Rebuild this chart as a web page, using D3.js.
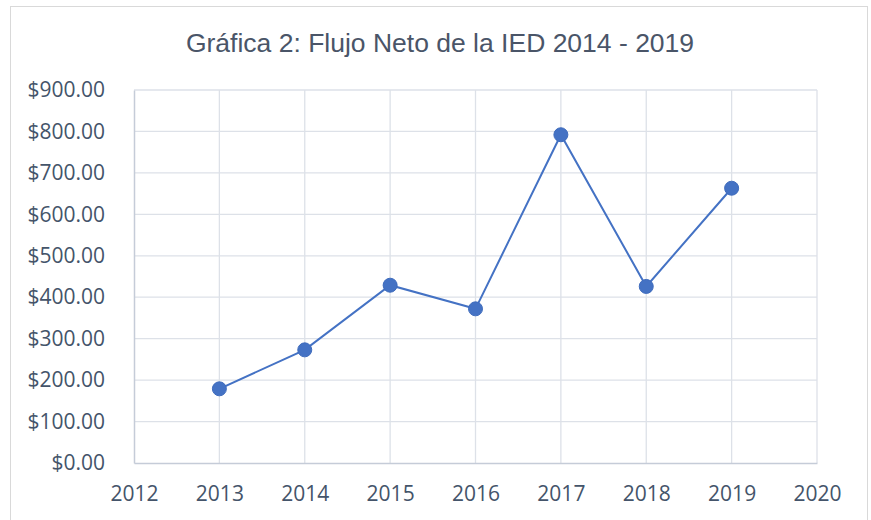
<!DOCTYPE html>
<html><head><meta charset="utf-8">
<script src="https://cdn.jsdelivr.net/npm/d3@7"></script>
<style>body{margin:0;background:#fff}svg{display:block}</style>
</head><body>
<script>
const title = "Gráfica 2: Flujo Neto de la IED 2014 - 2019";
const years = [2013, 2014, 2015, 2016, 2017, 2018, 2019];
const values = [179, 273, 429, 372, 792, 426, 663];
const xTicks = [2012, 2013, 2014, 2015, 2016, 2017, 2018, 2019, 2020];
const yTicks = [0, 100, 200, 300, 400, 500, 600, 700, 800, 900];

const W = 871, H = 520;
const m = {left: 134, right: 871 - 817, top: 90, bottom: 520 - 463};
const svg = d3.select("body").append("svg").attr("width", W).attr("height", H);

svg.append("rect").attr("x", 10.5).attr("y", 6.5).attr("width", 857).attr("height", 530)
  .attr("fill", "#fff").attr("stroke", "#D9D9D9").attr("stroke-width", 1);

const x = d3.scaleLinear().domain([2012, 2020]).range([m.left, W - m.right]);
const y = d3.scaleLinear().domain([0, 900]).range([H - m.bottom, m.top]);

svg.append("text").attr("x", 440).attr("y", 52).attr("text-anchor", "middle")
  .attr("font-family", "Liberation Sans, Arial, sans-serif").attr("font-size", 26.5)
  .attr("fill", "#4A5568").text(title);

const fmt = v => "$" + d3.format(",.2f")(v);

// grid
svg.append("g").selectAll("line").data(yTicks.filter(d => d > 0)).join("line")
  .attr("x1", x(2012)).attr("x2", x(2020)).attr("y1", d => y(d)).attr("y2", d => y(d))
  .attr("stroke", "#DDE1E8").attr("stroke-width", 1.3);
svg.append("g").selectAll("line").data(xTicks.filter(d => d > 2012)).join("line")
  .attr("y1", y(0)).attr("y2", y(900)).attr("x1", d => x(d)).attr("x2", d => x(d))
  .attr("stroke", "#DDE1E8").attr("stroke-width", 1.3);

// axes
const yAxis = svg.append("g").attr("transform", `translate(${m.left},0)`)
  .call(d3.axisLeft(y).tickValues(yTicks).tickFormat(fmt).tickSize(0).tickPadding(29));
const xAxis = svg.append("g").attr("transform", `translate(0,${y(0)})`)
  .call(d3.axisBottom(x).tickValues(xTicks).tickFormat(d3.format("d")).tickSize(0).tickPadding(23));
[yAxis, xAxis].forEach(a => {
  a.select(".domain").attr("stroke", "#C5CCD8").attr("stroke-width", 1.5);
  a.selectAll("text").attr("font-family", "Open Sans, Noto Sans, sans-serif")
    .attr("font-size", 21).attr("fill", "#44546A");
});

// line
const data = years.map((yr, i) => ({yr, v: values[i]}));
svg.append("path").datum(data)
  .attr("d", d3.line().x(d => x(d.yr)).y(d => y(d.v)))
  .attr("fill", "none").attr("stroke", "#4472C4").attr("stroke-width", 2);
svg.append("g").selectAll("circle").data(data).join("circle")
  .attr("cx", d => x(d.yr)).attr("cy", d => y(d.v)).attr("r", 7)
  .attr("fill", "#4472C4").attr("stroke", "#3F6CBD").attr("stroke-width", 1);
</script>
</body></html>
